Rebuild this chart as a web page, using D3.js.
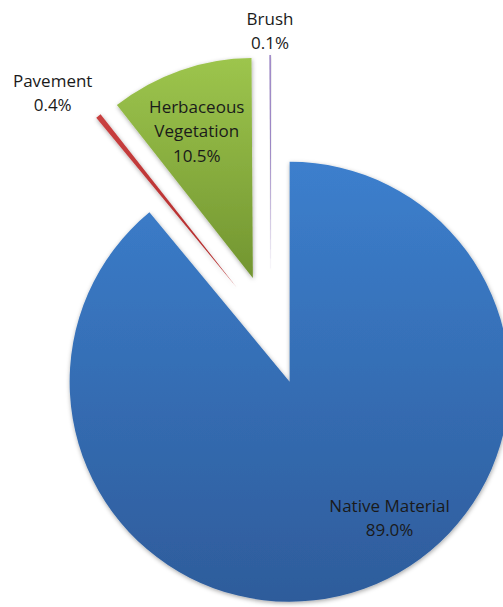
<!DOCTYPE html>
<html>
<head>
<meta charset="utf-8">
<script src="https://cdn.jsdelivr.net/npm/d3@7"></script>
<style>
  html, body { margin: 0; padding: 0; background: #fff; }
  svg { display: block; }
  text { font-family: "Open Sans", "Noto Sans", sans-serif; font-size: 17px; fill: #1a1a1a; }
</style>
</head>
<body>
<svg id="chart" width="503" height="607"></svg>
<script>
// Surface cover shares (percent), drawn clockwise from 12 o'clock
const categories = ["Native Material", "Pavement", "Herbaceous Vegetation", "Brush"];
const shares = [89.0, 0.4, 10.5, 0.1];
const labelLines = [["Native Material", "89.0%"], ["Pavement", "0.4%"], ["Herbaceous", "Vegetation", "10.5%"], ["Brush", "0.1%"]];

// Gradient stops (top, bottom) for each slice
const fills = [
  ["#3c7fcd", "#2e5c9b"],
  ["#c94040", "#b02a2a"],
  ["#9dc54d", "#729530"],
  ["#9077c0", "#7a5fae"]
];

const width = 503, height = 607;
const cx = 271, cy = 330, radius = 220, explode = 55;

// Label placement: polar position relative to each slice's own apex
// (angle in degrees clockwise from 12 o'clock, distance in px)
const labelPolar = [
  { angle: 143.5, dist: 168 },
  { angle: 316.7, dist: 268 },
  { angle: 339.2, dist: 158 },
  { angle: 359.8, dist: 245 }
];

const svg = d3.select("#chart");
const defs = svg.append("defs");

const shadow = defs.append("filter")
  .attr("id", "soft-shadow")
  .attr("x", "-20%").attr("y", "-20%")
  .attr("width", "140%").attr("height", "140%");
shadow.append("feDropShadow")
  .attr("dx", 0.5).attr("dy", 1.5)
  .attr("stdDeviation", 2)
  .attr("flood-color", "#000")
  .attr("flood-opacity", 0.35);

fills.forEach((f, i) => {
  const g = defs.append("linearGradient")
    .attr("id", "grad-" + i)
    .attr("x1", 0).attr("y1", 0).attr("x2", 0).attr("y2", 1);
  g.append("stop").attr("offset", "0%").attr("stop-color", f[0]);
  g.append("stop").attr("offset", "100%").attr("stop-color", f[1]);
});

const data = categories.map((c, i) => ({ name: c, value: shares[i], i }));

const pie = d3.pie().value(d => d.value).sort(null);
const arc = d3.arc().innerRadius(0).outerRadius(radius);
const arcs = pie(data);

const toXY = (deg, r) => {
  const a = deg * Math.PI / 180;
  return [Math.sin(a) * r, -Math.cos(a) * r];
};

const root = svg.append("g").attr("transform", `translate(${cx},${cy})`);

// Each slice is pushed outward along its bisector
const slices = root.selectAll("g.slice")
  .data(arcs)
  .join("g")
  .attr("class", "slice")
  .attr("transform", d => {
    const mid = (d.startAngle + d.endAngle) / 2;
    return `translate(${Math.sin(mid) * explode},${-Math.cos(mid) * explode})`;
  });

slices.append("path")
  .attr("d", arc)
  .attr("fill", d => `url(#grad-${d.data.i})`)
  .attr("filter", "url(#soft-shadow)");

// Data labels
slices.each(function (d) {
  const p = labelPolar[d.data.i];
  const [lx, ly] = toXY(p.angle, p.dist);
  const lines = labelLines[d.data.i];
  const lh = 24.5;
  const t = d3.select(this).append("text")
    .attr("text-anchor", "middle")
    .attr("x", lx)
    .attr("y", ly - (lines.length - 1) * lh / 2)
    .attr("dominant-baseline", "central");
  lines.forEach((ln, k) => {
    t.append("tspan")
      .attr("x", lx)
      .attr("dy", k === 0 ? 0 : lh)
      .text(ln);
  });
});
</script>
</body>
</html>
